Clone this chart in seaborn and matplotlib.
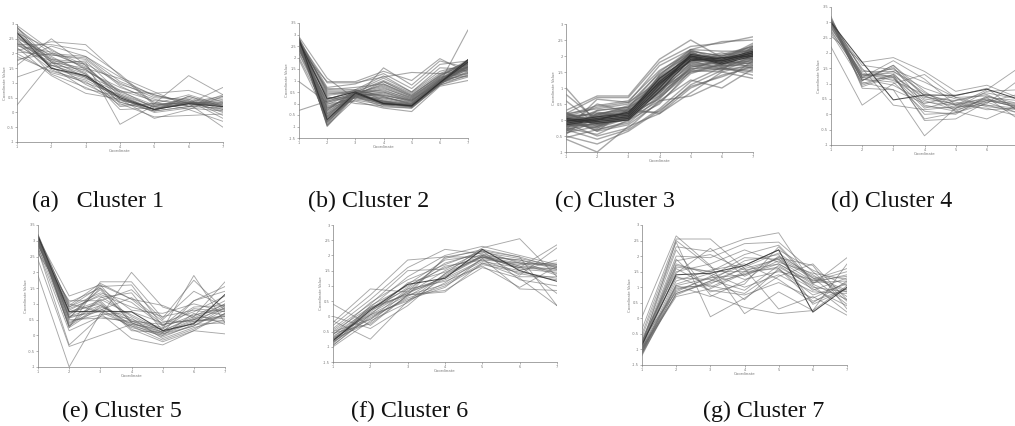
import matplotlib
matplotlib.use("Agg")
import matplotlib.pyplot as plt
import pandas as pd
import seaborn as sns

coords = [1, 2, 3, 4, 5, 6, 7]

cluster1 = [
 [0.25,1.7,1.3,0.35,0.05,0.2,0.15],[1.6,2.5,1.6,0.55,0.1,0.3,0.85],[2.1,2.4,2.3,1.25,0.25,0.35,0.05],
 [2.3,2.3,2.1,1.3,0.3,1.25,0.6],[1.2,1.6,1.45,0.7,0.65,0.75,0.35],[1.8,2.0,1.9,1.2,0.7,0.2,0.6],
 [2.5,1.95,1.85,0.95,0.6,0.3,-0.5],[2.9,1.5,1.2,0.55,0.1,0.55,0.2],[2.6,1.8,1.7,-0.4,0.25,0.35,0.2],
 [2.2,1.25,0.65,0.45,-0.2,0.1,-0.3],[2.7,1.7,1.5,0.3,-0.15,-0.1,-0.05],[2.35,1.45,1.0,0.6,0.2,0.35,0.3],
 [2.75,1.55,0.8,0.55,0.1,0.45,0.1],[2.45,1.6,1.25,0.75,0.4,0.35,0.55],[2.0,1.35,1.05,0.25,0.3,0.3,0.1],
 [2.85,2.0,1.55,0.6,0.1,0.35,0.25],[2.55,1.85,1.4,0.85,0.45,0.2,0.3],[2.15,1.75,1.65,1.0,0.5,0.45,-0.1],
 [2.65,1.9,1.3,0.1,0.15,0.25,0.45],[2.95,2.1,1.6,0.45,0.1,0.3,0.4],[1.9,1.4,1.1,0.5,0.0,0.15,0.05],
 [2.4,1.65,1.75,0.65,0.2,0.3,0.35],[2.25,2.05,1.5,1.15,0.55,0.4,0.0],[2.8,1.7,0.95,0.4,0.2,0.5,0.15],
 [2.6,1.5,1.15,0.7,0.25,0.4,-0.2],[2.05,1.95,1.8,0.9,0.35,0.1,0.55],[2.35,1.8,1.35,0.2,0.3,0.6,0.25],
 [2.7,2.15,1.45,0.75,0.15,0.3,0.5],[2.5,1.3,0.85,0.35,0.05,0.2,0.35],[1.75,2.25,1.9,1.05,0.6,0.35,0.2],
 [2.9,1.75,1.2,0.45,0.05,0.55,0.2],[2.3,1.6,1.2,0.45,0.1,0.35,0.25],
]
dark1 = [[2.7,1.5,1.25,0.5,0.1,0.3,0.2]]

cluster2 = [
 [-0.3,0.1,0.45,0.1,-0.1,0.9,1.2],[0.95,0.05,0.4,0.35,0.15,0.9,3.2],[2.9,1.1,0.2,1.55,0.8,1.85,1.55],
 [2.7,0.9,0.9,1.15,1.35,1.3,1.8],[2.4,0.95,0.95,1.4,1.0,1.95,1.35],[2.8,0.7,0.85,1.3,0.65,1.7,1.85],
 [2.6,0.65,0.6,1.2,0.5,1.55,1.5],[2.7,0.55,0.55,1.1,0.5,1.4,1.7],[2.5,0.35,0.5,1.0,0.45,1.3,1.45],
 [2.75,0.2,0.5,0.95,0.35,1.2,1.9],[2.3,0.1,0.45,0.8,0.3,1.1,1.6],[2.65,-0.05,0.45,0.75,0.25,1.05,1.75],
 [2.8,-0.2,0.4,0.7,0.2,1.0,1.85],[2.45,-0.35,0.4,0.6,0.15,0.95,1.3],[2.7,-0.5,0.35,0.5,0.1,0.95,1.55],
 [2.6,-0.6,0.4,0.4,0.05,0.9,1.7],[2.75,-0.7,0.45,0.3,0.0,0.9,1.65],[2.5,-0.8,0.3,0.2,-0.05,0.85,1.5],
 [2.85,-1.0,0.35,0.1,-0.1,0.85,1.8],[2.8,-0.95,0.2,0.05,-0.15,0.8,1.85],[2.7,-0.85,0.4,0.05,-0.1,0.95,1.9],
 [2.65,-0.75,0.45,0.0,-0.05,0.9,1.75],[2.55,-0.65,0.3,-0.05,-0.05,0.85,1.6],[2.8,-0.55,0.4,0.0,-0.1,0.9,1.9],
 [2.4,-0.45,0.35,-0.05,-0.15,0.85,1.4],[2.75,-0.3,0.5,0.05,-0.05,0.95,1.85],[2.6,-0.25,0.5,0.0,-0.1,0.9,1.7],
 [2.2,-0.15,0.3,-0.15,-0.2,0.8,1.15],[2.7,0.0,0.1,-0.2,-0.35,0.75,1.0],[2.5,0.3,0.0,-0.1,-0.2,0.8,1.25],
 [2.85,0.45,0.45,0.05,-0.05,0.9,1.9],[2.75,0.5,0.5,0.1,0.0,0.95,1.8],[2.35,0.15,0.6,0.15,-0.1,1.0,1.5],
 [2.0,-0.4,0.45,0.25,0.05,0.9,1.35],[1.9,-0.6,0.3,0.45,0.1,1.05,1.2],[2.7,-0.9,0.55,0.55,0.2,1.1,1.75],
 [2.8,-0.45,0.4,0.85,0.3,1.15,1.85],[2.6,-0.75,0.35,0.95,0.4,1.2,1.8],[2.7,0.25,0.25,0.1,-0.15,0.85,1.9],
 [2.5,-0.2,0.15,-0.05,-0.15,0.9,1.6],[2.8,-0.8,0.45,-0.05,-0.05,0.95,1.85],[2.75,-0.95,0.4,0.0,-0.1,0.9,1.85],
 [2.65,0.4,0.55,0.35,0.1,1.0,1.6],[2.55,-0.1,0.25,0.25,0.0,1.0,1.45],[2.45,-0.55,0.5,0.5,0.15,1.05,1.55],
 [2.3,0.05,0.35,0.65,0.25,1.15,1.3],[2.15,-0.3,0.6,0.3,-0.05,0.95,1.65],[2.7,0.6,0.7,0.85,0.35,1.25,1.7],
]
dark2 = [[2.8,-0.7,0.45,0.0,-0.1,0.9,1.9],[2.7,0.2,0.5,0.0,-0.1,0.9,1.8]]

cluster3 = [
 [1.0,-0.1,0.1,0.7,1.5,1.75,1.85],[0.8,0.0,0.2,0.9,1.6,1.6,1.5],[0.6,-0.15,0.05,0.6,1.25,1.0,1.6],
 [0.3,0.75,0.75,1.9,2.5,1.95,2.0],[0.2,0.7,0.7,1.8,2.3,2.4,2.6],[-0.3,0.65,0.55,1.7,2.2,2.45,2.5],
 [-0.6,-1.0,-0.2,0.2,0.85,1.5,1.3],[-0.5,-0.75,-0.35,0.3,1.05,1.35,1.7],[-0.3,-0.6,-0.3,0.35,1.2,1.65,1.4],
 [-0.1,-0.5,-0.25,0.6,0.75,1.2,1.85],[0.1,-0.35,0.35,0.2,1.0,1.4,1.65],[-0.2,0.5,0.25,0.25,1.1,1.55,2.3],
 [0.15,0.45,0.6,1.55,2.1,1.9,2.4],[-0.45,0.3,0.4,1.35,1.95,1.75,2.1],[-0.35,0.2,0.3,1.25,2.0,1.85,2.15],
 [-0.25,0.15,0.2,1.2,1.9,1.9,2.1],[-0.15,0.1,0.15,1.3,2.0,1.8,2.2],[-0.05,0.05,0.1,1.1,2.05,1.85,2.0],
 [0.0,0.0,0.05,1.0,1.95,1.9,1.95],[0.05,-0.05,0.1,1.2,2.1,1.8,2.05],[0.1,-0.1,0.0,0.95,1.9,1.7,2.1],
 [0.2,-0.15,0.05,1.05,2.0,1.95,1.9],[0.25,-0.2,0.15,1.15,2.15,2.0,2.2],[-0.1,-0.25,0.2,1.4,2.2,1.85,2.25],
 [-0.4,-0.05,0.1,1.25,2.05,1.7,1.8],[-0.2,0.0,0.25,0.85,1.8,1.95,2.1],[0.0,0.1,0.3,0.75,1.7,1.85,1.75],
 [0.1,0.2,0.35,1.0,1.85,2.05,2.3],[-0.05,-0.3,-0.05,0.9,1.75,1.6,2.0],[0.05,0.25,0.1,1.3,1.95,1.75,2.15],
 [-0.3,-0.1,0.0,1.1,1.85,1.9,2.05],[0.15,0.0,0.2,0.65,1.65,1.8,1.95],[-0.15,0.15,0.45,1.15,1.9,2.1,1.9],
 [0.0,-0.2,0.15,1.35,2.1,1.85,2.1],[-0.1,0.05,0.05,1.05,2.05,1.95,2.0],[0.05,0.1,0.25,1.2,2.0,1.8,2.2],
 [-0.05,-0.05,0.1,1.0,1.95,1.85,2.1],[0.0,0.05,0.2,1.15,2.0,1.9,2.05],[-0.2,-0.1,0.1,1.25,1.9,1.75,1.85],
 [0.1,0.0,0.3,0.8,2.15,2.0,2.25],[-0.25,-0.45,0.0,0.5,1.55,1.95,1.6],[0.2,0.35,0.5,1.45,2.05,1.85,2.35],
 [-0.55,-0.3,-0.1,0.7,1.6,1.7,1.7],[-0.4,-0.2,0.05,0.95,1.7,1.55,1.9],[-0.2,0.1,0.35,1.3,1.8,1.65,1.8],
 [-0.1,0.3,0.4,0.95,1.55,1.5,1.75],[0.05,-0.35,-0.15,0.55,1.45,1.75,1.9],[0.2,-0.05,0.15,1.1,1.75,1.95,2.2],
 [-0.3,0.2,0.15,0.85,1.5,1.6,1.65],[-0.15,-0.15,0.1,1.4,2.15,1.65,1.95],[0.15,0.15,0.4,1.5,2.2,2.15,2.15],
 [0.0,-0.25,0.05,0.75,1.65,1.85,2.0],[-0.35,0.05,0.25,1.05,1.95,2.0,2.3],[0.1,0.4,0.55,1.2,1.85,1.6,1.55],
]
dark3 = [[0.0,0.0,0.1,1.1,2.0,1.85,2.1],[-0.1,0.05,0.15,1.2,1.95,1.8,2.05],[0.05,-0.05,0.05,1.0,2.05,1.9,2.15],
         [-0.05,0.1,0.2,1.3,2.0,1.75,2.0],[0.0,-0.1,0.0,0.9,1.9,1.85,2.1],[-0.15,0.0,0.25,1.15,1.85,1.95,2.0]]

cluster4 = [
 [2.2,0.3,1.0,1.3,0.55,0.3,0.2],[2.55,1.7,1.85,1.4,0.75,0.95,0.55],[2.9,1.2,1.75,1.15,0.3,0.8,1.5],
 [3.2,0.85,0.8,-0.7,0.2,0.45,0.25],[3.1,1.1,1.6,0.75,0.1,-0.15,0.3],[3.0,1.0,1.3,-0.2,-0.15,0.4,0.05],
 [2.95,1.25,1.5,0.6,0.3,0.55,-0.15],[2.85,1.3,1.25,-0.15,0.05,0.35,1.1],[3.05,1.45,1.2,0.2,0.45,0.7,0.5],
 [2.75,1.15,1.05,0.1,0.0,0.6,0.35],[3.1,1.4,1.4,0.85,0.5,0.25,0.15],[2.65,1.05,0.8,0.35,0.6,0.85,0.1],
 [3.0,0.95,1.3,0.5,0.35,0.5,0.3],[2.9,1.5,0.3,0.15,0.25,0.3,0.05],[3.15,1.2,1.15,0.45,0.15,0.4,0.65],
 [2.8,1.35,1.1,0.65,0.4,0.15,0.2],[3.05,1.1,1.55,0.3,0.1,0.55,0.45],[2.95,1.6,1.45,1.05,0.55,0.6,0.25],
 [2.7,1.25,1.35,0.25,0.2,0.75,0.8],[3.0,1.3,1.2,0.0,0.05,0.45,0.35],[2.85,1.15,0.95,0.4,0.3,0.2,-0.05],
 [3.1,0.9,1.25,0.55,0.45,0.65,0.15],[3.0,1.1,1.6,0.6,0.2,0.5,0.2],[3.05,1.2,1.4,0.7,0.3,0.45,0.25],
]
dark4 = [[3.0,1.7,0.47,0.63,0.62,0.82,0.5]]

cluster5 = [
 [1.9,-1.0,0.7,-0.1,-0.3,0.15,0.05],[2.4,-0.35,0.0,0.35,0.2,1.9,0.4],[2.7,-0.3,0.6,2.0,0.9,0.6,1.7],
 [3.0,0.25,1.7,1.7,0.55,1.75,0.8],[2.85,0.9,1.55,1.6,0.3,1.1,1.55],[3.1,1.25,1.6,1.15,0.95,0.55,0.6],
 [2.6,1.1,1.1,1.45,0.5,1.4,0.9],[3.15,0.95,1.65,1.15,0.35,0.5,1.0],[3.05,0.85,1.25,0.6,0.1,1.1,1.4],
 [2.9,0.75,1.0,0.3,-0.15,0.2,0.7],[3.2,0.65,1.45,0.4,0.05,0.3,0.9],[3.0,0.55,0.85,0.25,0.0,0.7,0.35],
 [2.95,0.5,0.55,0.45,0.2,0.85,0.75],[3.1,0.4,0.8,1.2,0.45,0.45,0.55],[2.8,0.3,1.15,0.65,0.15,0.55,1.0],
 [3.15,0.6,0.95,0.35,-0.05,0.35,0.4],[2.75,0.8,1.3,0.9,0.6,0.8,0.65],[3.05,1.0,0.75,0.5,0.25,0.65,0.85],
 [3.0,0.7,1.05,0.15,0.1,0.45,0.6],[2.9,0.45,0.65,0.75,0.4,0.75,1.25],[3.2,0.9,1.35,1.05,0.3,0.9,0.95],
 [3.1,0.25,0.9,0.55,-0.1,0.25,0.5],[2.85,1.05,1.5,0.8,0.7,1.0,0.75],[3.0,0.6,0.75,0.3,0.05,0.4,0.65],
 [2.95,0.35,1.2,1.35,0.15,0.6,1.1],[3.15,0.55,1.6,0.45,0.35,0.5,0.45],[2.7,0.15,0.6,0.4,0.0,0.3,0.8],
 [3.05,0.75,1.1,0.2,-0.2,0.15,0.7],[3.1,0.55,1.5,0.4,0.1,0.5,0.85],[3.05,0.3,0.95,0.45,0.1,0.4,0.95],
]
dark5 = [[3.15,0.75,0.77,0.75,0.15,0.37,1.3]]

cluster6 = [
 [0.4,-0.3,0.7,0.85,1.6,1.25,0.35],[0.0,-0.4,0.35,1.4,2.25,2.55,1.3],[-0.15,-0.75,0.5,1.1,1.9,0.9,0.85],
 [-0.2,0.9,0.8,1.9,2.2,1.95,0.35],[-0.3,0.7,1.85,1.95,1.95,1.6,2.35],[-0.4,0.55,1.6,2.2,2.05,1.35,2.25],
 [-0.45,0.4,1.5,1.55,2.15,1.2,1.0],[-0.5,0.3,1.3,2.0,2.3,2.0,1.7],[-0.55,-0.25,0.7,0.8,1.75,1.5,1.85],
 [-0.6,0.25,0.9,1.65,1.85,1.75,1.35],[-0.65,0.05,1.1,1.45,1.95,1.65,1.55],[-0.7,-0.1,0.65,1.35,2.0,1.85,1.6],
 [-0.75,0.1,0.8,1.2,1.8,1.6,1.5],[-0.8,0.15,0.95,1.75,2.1,1.9,1.65],[-0.85,-0.05,0.6,1.0,1.7,1.45,1.25],
 [-0.9,0.2,0.75,1.5,2.05,1.8,1.4],[-0.95,0.0,0.55,0.95,1.9,1.7,1.75],[-1.0,-0.15,0.45,1.3,2.0,1.55,1.45],
 [-0.85,0.35,1.0,1.6,1.95,1.75,1.7],[-0.75,-0.2,0.85,1.25,1.85,1.4,1.2],[-0.6,0.45,1.2,1.7,2.15,1.95,1.6],
 [-0.7,0.3,0.7,1.05,1.75,1.3,1.3],[-0.95,0.05,0.5,1.4,1.95,1.85,1.55],[-0.8,0.25,1.05,1.85,2.0,1.65,0.75],
 [-0.5,-0.1,0.9,1.15,1.65,0.95,1.65],[-0.85,0.05,0.7,1.95,2.15,1.75,1.65],[-0.75,0.25,0.75,1.3,1.95,1.6,1.55],
]
dark6 = [[-0.8,0.2,1.05,1.25,2.2,1.5,1.15]]

cluster7 = [
 [0.05,2.65,1.7,0.15,0.85,0.25,1.05],[-0.35,2.55,2.55,1.6,0.3,0.7,0.1],[-0.5,2.45,0.05,0.65,1.35,1.75,0.6],
 [-0.6,2.3,2.15,2.55,2.75,1.1,1.95],[-0.75,2.2,0.75,0.35,0.15,0.25,1.75],[-0.8,2.0,1.95,2.4,2.45,1.5,0.55],
 [-0.85,1.9,0.85,1.1,2.3,1.15,1.4],[-0.9,1.75,1.4,0.6,1.6,0.75,1.1],[-0.95,1.6,1.0,1.5,1.95,1.7,0.3],
 [-1.0,1.45,2.25,1.35,1.85,1.2,1.5],[-1.05,1.3,1.25,0.9,1.7,1.0,0.85],[-1.1,1.2,1.55,1.75,1.25,0.5,1.2],
 [-1.15,1.05,0.7,1.2,2.0,1.4,0.7],[-1.2,0.95,1.1,1.65,2.1,1.3,0.45],[-0.7,0.85,1.35,1.95,1.9,0.9,1.3],
 [-0.95,0.75,1.2,1.85,2.05,0.45,0.95],[-1.0,0.7,0.95,1.45,1.65,1.05,0.2],[-0.85,2.5,1.65,1.25,1.5,1.25,1.6],
 [-0.65,1.5,1.75,2.2,1.8,1.45,1.25],[-1.1,1.1,1.45,1.0,1.4,0.85,0.8],[-0.9,1.85,2.05,1.55,1.75,1.1,0.6],
 [-1.05,0.9,1.3,1.7,2.2,1.55,1.05],[-0.8,1.35,0.9,0.75,1.15,0.65,1.15],[-1.15,0.8,1.15,1.4,1.95,1.35,0.9],
 [-0.75,1.7,1.5,2.05,2.35,1.2,1.35],[-1.0,1.0,1.05,0.8,1.55,0.95,0.4],[-0.9,1.65,1.5,1.5,1.6,0.55,0.95],
 [-1.1,0.8,1.2,1.6,1.9,1.3,0.85],[-0.95,1.05,1.3,1.4,1.75,1.15,1.2],
]
dark7 = [[-0.85,1.4,1.45,1.7,2.2,0.2,1.0]]

captions = ["(a)   Cluster 1", "(b) Cluster 2", "(c) Cluster 3", "(d) Cluster 4",
            "(e) Cluster 5", "(f) Cluster 6", "(g) Cluster 7"]
caption_x = [32, 308, 555, 831, 62, 351, 703]
caption_y = [201, 201, 201, 201, 411, 411, 411]
tick_sets = [
 [-1,-0.5,0,0.5,1,1.5,2,2.5,3],
 [-1.5,-1,-0.5,0,0.5,1,1.5,2,2.5,3,3.5],
 [-1,-0.5,0,0.5,1,1.5,2,2.5,3],
 [-1,-0.5,0,0.5,1,1.5,2,2.5,3,3.5],
 [-1,-0.5,0,0.5,1,1.5,2,2.5,3,3.5],
 [-1.5,-1,-0.5,0,0.5,1,1.5,2,2.5,3],
 [-1.5,-1,-0.5,0,0.5,1,1.5,2,2.5,3],
]
all_light = [cluster1, cluster2, cluster3, cluster4, cluster5, cluster6, cluster7]
all_dark = [dark1, dark2, dark3, dark4, dark5, dark6, dark7]
# pixel boxes: x at coordinate 1, x at coordinate 7, y top, y bottom
boxes = [(17,223,24,142),(299,468,23,138),(566,753,24,152),(831,1018,7,145),
         (38,225,225,367),(333,557,225,362),(642,847,225,365)]
light_width = [0.65, 0.8, 1.0, 0.65, 0.65, 0.65, 0.65]

def long_form(rows):
    return pd.DataFrame([{"Coordinate": c, "Value": v, "line": i}
                         for i, r in enumerate(rows) for c, v in zip(coords, r)])

def fmt(v):
    return f"{v:g}"

sns.set_theme(style="white")
W, H = 1015, 426
fig = plt.figure(figsize=(W/100, H/100), dpi=100, facecolor="white")
GRAY = "#808080"
for k in range(7):
    x0, x1, yt, yb = boxes[k]
    ax = fig.add_axes([x0/W, 1-yb/H, (x1-x0)/W, (yb-yt)/H], facecolor="none")
    sns.lineplot(data=long_form(all_light[k]), x="Coordinate", y="Value", units="line",
                 estimator=None, color="#606060", alpha=0.55, lw=light_width[k], ax=ax, legend=False)
    sns.lineplot(data=long_form(all_dark[k]), x="Coordinate", y="Value", units="line",
                 estimator=None, color="#303030", alpha=0.85, lw=0.75, ax=ax, legend=False)
    ax.set_xlim(1, 7)
    ax.set_ylim(tick_sets[k][0], tick_sets[k][-1])
    ax.set_xticks(coords)
    # the fourth panel's last coordinate falls past the edge of the picture
    ax.set_xticklabels([str(c) if x0 + (x1-x0)*(c-1)/6 < W-3 else "" for c in coords])
    ax.set_yticks(tick_sets[k])
    ax.set_yticklabels([fmt(t) for t in tick_sets[k]])
    ax.tick_params(length=1.5, width=0.4, labelsize=2.6, pad=0.6, colors="#777777",
                   left=True, bottom=True)
    ax.set_xlabel("Coordinate", fontsize=2.8, labelpad=0.2, color="#777777")
    ax.set_ylabel("Coordinate Value", fontsize=2.8, labelpad=0.2, color="#777777")
    for s in ("top", "right"):
        ax.spines[s].set_visible(False)
    for s in ("left", "bottom"):
        ax.spines[s].set_color(GRAY)
        ax.spines[s].set_linewidth(0.5)
    fig.text(caption_x[k]/W, 1-caption_y[k]/H, captions[k], family="Liberation Serif",
             fontsize=17.3, color="#111111", va="center", ha="left")
fig.savefig("out.png", dpi=100)
